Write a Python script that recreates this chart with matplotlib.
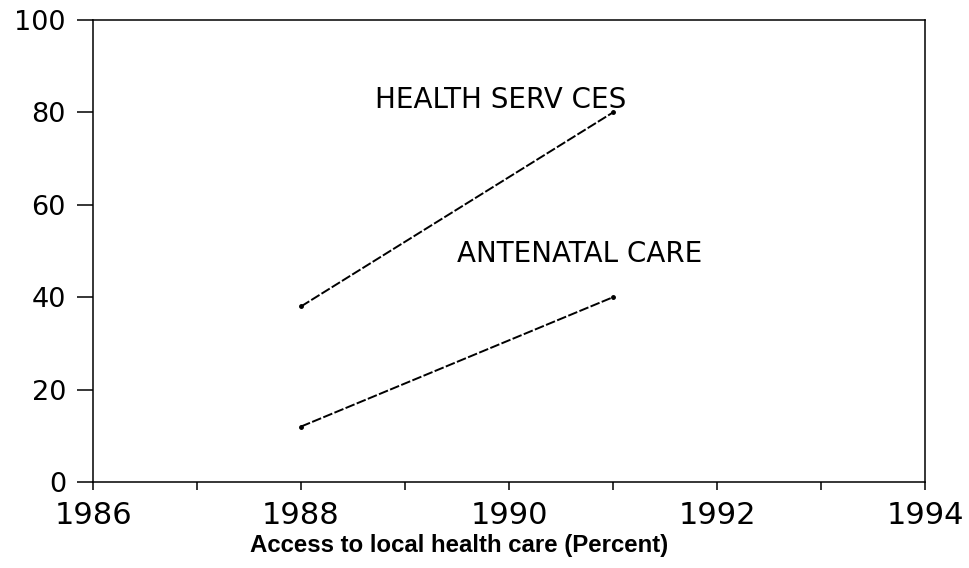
import matplotlib.pyplot as plt

years = [1988, 1991]
health_services = [38, 80]
antenatal_care = [12, 40]

x_ticks = list(range(1986, 1995))
x_labels = [str(y) if y % 2 == 0 else '' for y in x_ticks]
y_ticks = [0, 20, 40, 60, 80, 100]


def main():
    fig = plt.figure(figsize=(9.7, 5.68), dpi=100)
    ax = fig.add_axes([0.0959, 0.1514, 0.8577, 0.8134])

    line_style = dict(color='black', linewidth=1.4, linestyle=(0, (5, 1.2)),
                      marker='o', markersize=2.5)
    ax.plot(years, health_services, **line_style)
    ax.plot(years, antenatal_care, **line_style)

    ax.text(1988.71, 81.0, 'HEALTH SERV CES', fontsize=20, va='baseline', ha='left')
    ax.text(1989.5, 47.6, 'ANTENATAL CARE', fontsize=20, va='baseline', ha='left')

    ax.set_xlim(1986, 1994)
    ax.set_ylim(0, 100)
    ax.set_xticks(x_ticks)
    ax.set_xticklabels(x_labels)
    ax.set_yticks(y_ticks)
    ax.set_yticklabels([str(v) for v in y_ticks])

    ax.tick_params(axis='x', direction='out', length=6, width=1.1, pad=8, labelsize=22)
    ax.tick_params(axis='y', direction='out', length=11.5, width=1.1, pad=8, labelsize=19.5)
    for spine in ax.spines.values():
        spine.set_linewidth(1.1)

    fig.text(0.473, 0.04, 'Access to local health care (Percent)',
             ha='center', va='center', fontsize=17.3, fontweight='bold',
             family='Liberation Sans')

    fig.savefig('out.png', dpi=100)


if __name__ == '__main__':
    main()
